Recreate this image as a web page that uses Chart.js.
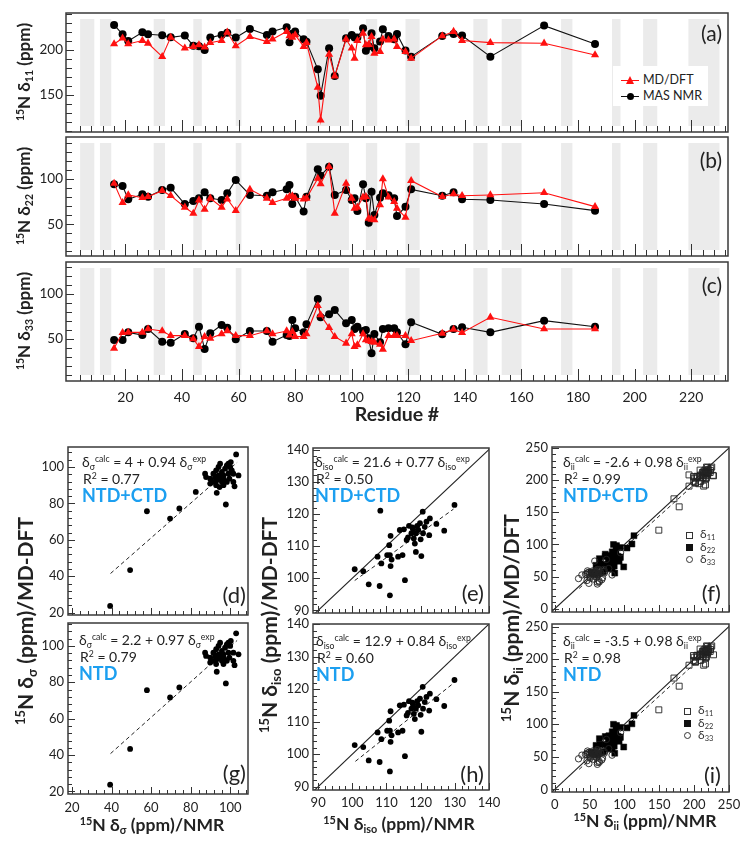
<!DOCTYPE html>
<html><head><meta charset="utf-8">
<script src="https://cdn.jsdelivr.net/npm/chart.js@4.4.1/dist/chart.umd.min.js"></script>
<style>
html,body{margin:0;padding:0;background:#fff}
body{width:754px;height:850px;position:relative;overflow:hidden;font-family:Lato,"Open Sans",sans-serif;color:#222}
canvas{position:absolute}
.t{position:absolute;white-space:nowrap;line-height:1}
.t sup,.t sub{font-size:0.62em;line-height:0;position:relative;vertical-align:baseline}
.t sup{top:-0.6em}
.t sub{top:0.32em}
.mk{position:absolute;box-sizing:border-box}
</style></head><body>
<canvas id="ca"></canvas><canvas id="cb"></canvas><canvas id="cc"></canvas>
<canvas id="cd"></canvas><canvas id="ce"></canvas><canvas id="cf"></canvas>
<canvas id="cg"></canvas><canvas id="ch"></canvas><canvas id="ci"></canvas>
<script>
// ---------------- data ----------------
const residues = [16,19,21,26,28,33,36,41,44,46,48,50,54,56,59,64,70,72,77,78,79,80,83,84,88,89,92,94,98,100,101,102,104,105,106,107,108,110,111,113,115,116,119,121,132,136,139,149,168,186];
const d11NMR = [227.8,217.4,210,219.6,217.4,216.3,214,216,204.8,204,200,213.7,216.7,219,213.7,223.3,216.7,220.4,225.2,208.5,218,220.4,211.9,209,178.5,149.3,201.9,171,213,216.7,213.7,213.7,224,199,204,218.5,201.9,209.3,223,215.6,211.9,217.8,199.3,192.6,215.6,217.8,216,192.6,227,206.7];
const d11MD = [206.7,213,206.7,210.4,207.4,192.6,214,201.9,203.7,205.6,203,208.1,210.4,219.6,204.4,214.8,209.3,211.9,220.4,215.6,214,216.7,203.7,208,158.5,122.2,195.2,171,211.9,201.9,190.7,210.4,218.5,205.6,206,214.8,196.3,198,211.9,211,211.9,203.7,198,190.7,215.6,220.4,210.4,208.1,207.4,194.4];
const d22NMR = [94.1,92.3,77.6,83.1,80.5,87.9,90.4,72.4,75.7,78.7,85.3,78.7,76.8,84.2,98.9,82.4,81.6,85.3,88.6,93.4,72.4,80.5,64,80.5,110.7,103.7,113.6,82.4,87.9,76.8,78.7,64.7,94.1,78.7,51.8,86,60.3,79.4,84.2,82,78.7,59.2,69.5,88.6,81.6,85.3,77.6,76.8,72.4,65.1];
const d22MD = [95.2,73.9,82.4,79.4,80.5,87.1,81.6,68.8,62.1,76.8,66.5,78.7,68.8,77.9,65.1,88.6,78.7,73.9,78.7,80.5,81.3,78.7,77.9,78.7,100.7,94.5,113.6,62.1,95.2,78.7,67.6,68.8,79.8,80.5,56.6,55.5,54.8,71.3,100,80,75,67.6,57.7,98.2,80.5,83.5,81.6,82.4,84.9,69.5];
const d33NMR = [48.9,48.9,57.4,54.4,61.1,47,45.9,55.6,50.7,63.7,38.9,56.3,65.6,62.6,49.6,58.9,58.9,47,54.4,53.3,71.1,61.9,57.4,66.3,94.4,74.1,77.4,82.2,67.4,71.1,61.1,63.7,58.9,60,50.7,34.1,55.6,46.3,61.1,62,61.9,57.4,44.1,68.5,55.2,61.1,63,57.4,70.4,63.7];
const d33MD = [39.6,57,57.4,57.4,61.1,58.9,53.7,53.7,50,41.5,52.6,50.7,55.6,58.9,53.7,53.7,58.9,55.6,58.9,54.4,58.1,52.6,52.6,55.6,87,76.7,62.6,52.6,45.2,55.6,41.5,43.3,55.6,48.9,47.8,47,46.3,44.1,38.5,53.7,53.7,53.7,53.7,48.1,56.3,60.7,57,74.1,61.1,61.1];
const shadedBands = [[4,9],[11,15],[30,34],[44,47],[59,61],[84,99],[105,109],[119,124],[143,148],[153,160],[174,178],[192,195],[203,208],[219,230]];

// (d) NTD+CTD  delta-sigma
const sigAllNMR = [39.3,49.4,57.9,69.6,74.3,82.6,97.8,93.2,103,104.2,102.2,101.6,87.3,87.8,89.9,91.5,92.9,94.1,94.9,95.8,96.6,97.4,98.3,99.1,100,100.8,101.6,99.6,98.3,96.6,94.6,92.9,91.5,89.9,93.2,94.9,96.9,99.1,100.3,94.1,95.8,92.4];
const sigAllMD = [23.7,43.4,75.7,71.7,77.2,86.3,79.4,85.8,106.9,95.4,89.4,91.8,96.3,94.5,93.6,96.3,98.2,100,101.8,97.3,95.4,99.1,100.9,101.8,100,98.2,96.3,93.6,91.8,90,89,90,91.8,90.9,92.7,93.6,93.1,96.3,102.7,95.4,91.8,94.5];
// (g) NTD delta-sigma
const sigNtdNMR = [39.3,49.4,57.9,69.6,74.3,97.8,93.2,103,104.2,102.2,101.6,87.3,87.8,89.9,91.5,92.9,94.1,94.9,95.8,96.6,97.4,98.3,99.1,100,101.6,99.6,98.3,96.6,92.9,91.5,89.9,93.2,94.9,96.9,99.1,100.3,94.1,95.8,92.4];
const sigNtdMD = [23.7,43.4,75.7,71.7,77.2,79.4,85.8,106.9,95.4,89.4,91.8,96.3,94.5,93.6,96.3,98.2,100,101.8,97.3,95.4,99.1,100.9,101.8,100,96.3,93.6,91.8,90,90,91.8,90.9,92.7,93.6,93.1,96.3,102.7,95.4,91.8,94.5];
// (e) NTD+CTD delta-iso
const isoAllNMR = [100.7,103.2,104.8,108,108.2,107.4,108.5,110.2,110.8,111,111.2,111.5,111,111.2,113.4,113.9,114.7,115.1,115.4,115.9,116.3,116.6,117.3,117.8,118,118.3,118.6,119,119.3,119.8,120,120.2,120.6,120.7,121.2,121.7,122.5,122.7,124.6,126.9,129.9,118.6,117.6];
const isoAllMD = [102.8,102.2,98.1,97.6,121,106.7,104.6,107.2,110.3,107.2,103.8,105.8,94.7,113.2,106.7,115,107.2,115.2,99.4,111.9,112.7,116.3,114,115.2,112.4,110.8,114,116.3,115,117.1,112.1,106.9,120.7,114,116,117.6,113.4,118.6,116.9,114.8,122.8,108.2,115.8];
// (h) NTD delta-iso
const isoNtdNMR = [100.7,103.2,104.8,108,107.4,108.5,110.2,110.8,111,111.2,111.5,111,111.2,113.4,113.9,114.7,115.1,115.4,115.9,116.3,116.6,117.3,117.8,118,118.3,118.6,119,119.3,119.8,120,120.2,120.6,120.7,121.2,121.7,122.5,122.7,124.6,126.9,129.9,117.6];
const isoNtdMD = [102.8,102.2,98.1,97.6,106.7,104.6,107.2,110.3,107.2,103.8,105.8,94.7,113.2,106.7,115,107.2,115.2,99.4,111.9,112.7,116.3,114,115.2,112.4,110.8,114,116.3,115,117.1,112.1,106.9,120.7,114,116,117.6,113.4,118.6,116.9,114.8,122.8,115.8];
const ntdLastResidue = 146;

// dashed fit lines [x1,y1,x2,y2]
const fitD = [39.5,41.5,103.5,102.5];
const fitG = [39.5,40.8,103.5,103];
const fitE = [100.7,99.3,129.6,121.5];
const fitH = [100.9,97.8,129.6,121.8];
const fitF = [35,31.7,215,208];
const fitI = [35,30.8,215,207];

// tick labels
const residueTicks = [20,40,60,80,100,120,140,160,180,200,220];
const ticksA = [150,200];
const ticksB = [50,100];
const ticksC = [50,100];
const sigTicks = [20,40,60,80,100];
const isoTicks = [90,100,110,120,130,140];
const iiTicks = [0,50,100,150,200,250];

// ---------------- helpers ----------------
const FONT = 'Lato, "Open Sans", sans-serif';
Chart.defaults.font.family = FONT;
Chart.defaults.color = '#222';

const framePlugin = {
  id: 'frame',
  beforeDatasetsDraw(chart, args, o) {
    if (!o || !o.bands) return;
    const {ctx, chartArea: a} = chart; const xs = chart.scales.x;
    ctx.save(); ctx.fillStyle = '#ebebeb';
    o.bands.forEach(b => {
      const x1 = xs.getPixelForValue(b[0]), x2 = xs.getPixelForValue(b[1]);
      ctx.fillRect(x1, a.top + 6, x2 - x1, a.bottom - a.top - 12);
    });
    ctx.restore();
  },
  afterDraw(chart, args, o) {
    if (!o || !o.xt) return;
    const {ctx, chartArea: a} = chart;
    ctx.save();
    ctx.strokeStyle = '#333'; ctx.lineWidth = 1;
    ctx.beginPath();
    const marks = (sp, sc, horiz) => {
      const n = Math.round((sp.end - sp.start) / sp.step);
      for (let k = 0; k <= n; k++) {
        const v = sp.start + k * sp.step;
        const isMaj = Math.abs(v / sp.major - Math.round(v / sp.major)) < 1e-6;
        const len = isMaj ? sp.majLen : sp.minLen;
        const p = Math.round(sc.getPixelForValue(v)) + 0.5;
        if (horiz) { ctx.moveTo(p, a.bottom); ctx.lineTo(p, a.bottom - len); }
        else { ctx.moveTo(a.left, p); ctx.lineTo(a.left + len, p); }
      }
    };
    marks(o.xt, chart.scales.x, true);
    marks(o.yt, chart.scales.y, false);
    ctx.stroke();
    ctx.lineWidth = 1.5; ctx.strokeStyle = '#3a3a3a';
    ctx.strokeRect(a.left, a.top, a.right - a.left, a.bottom - a.top);
    ctx.restore();
  }
};
Chart.register(framePlugin);

function zero(s) { s.paddingTop = 0; s.paddingBottom = 0; s.paddingLeft = 0; s.paddingRight = 0; }
function axis(min, max, labels, show, size, pad) {
  return {
    type: 'linear', min, max,
    grid: {display: false, drawTicks: false}, border: {display: false},
    afterBuildTicks: s => { s.ticks = labels.map(v => ({value: v})); },
    ticks: {display: show, autoSkip: false, maxRotation: 0, minRotation: 0, padding: pad, font: {size, family: FONT}, color: '#222'}
  };
}
function mk(id, box, area, type, datasets, sx, sy, frame) {
  const c = document.getElementById(id);
  c.width = box.w; c.height = box.h;
  Object.assign(c.style, {left: box.l + 'px', top: box.t + 'px', width: box.w + 'px', height: box.h + 'px'});
  sx.afterFit = s => { s.height = box.t + box.h - area.b; zero(s); };
  sy.afterFit = s => { s.width = area.l - box.l; zero(s); };
  return new Chart(c, {
    type, data: {datasets},
    options: {
      responsive: false, animation: false, devicePixelRatio: 1,
      layout: {autoPadding: false, padding: {left: 0, top: area.t - box.t, right: box.l + box.w - area.r, bottom: 0}},
      plugins: {legend: {display: false}, tooltip: {enabled: false}, frame},
      scales: {x: sx, y: sy}
    }
  });
}
function topSets(nmr, md) {
  return [
    {label: 'MD/DFT', data: residues.map((r, i) => ({x: r, y: md[i]})), borderColor: '#ff1010', backgroundColor: '#ff1010',
     borderWidth: 1.1, pointStyle: 'triangle', pointRadius: 4.7, pointBorderWidth: 0, tension: 0, order: 0},
    {label: 'MAS NMR', data: residues.map((r, i) => ({x: r, y: nmr[i]})), borderColor: '#111', backgroundColor: '#000',
     borderWidth: 1.1, pointStyle: 'circle', pointRadius: 4, pointBorderWidth: 0, tension: 0, order: 1}
  ];
}
const xTop = {start: 4, end: 232, step: 4, major: 20, majLen: 12, minLen: 6};
function yTop(s, e) { return {start: s, end: e, step: 10, major: 50, majLen: 8, minLen: 6}; }

mk('ca', {l: 0, t: 0, w: 754, h: 134}, {l: 66, t: 13, r: 728, b: 132}, 'line', topSets(d11NMR, d11MD),
   axis(-1, 233, residueTicks, false, 13, 9), axis(109, 241, ticksA, true, 13.5, 3),
   {bands: shadedBands, xt: xTop, yt: yTop(110, 240)});
mk('cb', {l: 0, t: 134, w: 754, h: 125}, {l: 66, t: 137, r: 728, b: 256}, 'line', topSets(d22NMR, d22MD),
   axis(-1, 233, residueTicks, false, 13, 9), axis(15, 146.4, ticksB, true, 13.5, 3),
   {bands: shadedBands, xt: xTop, yt: yTop(20, 140)});
mk('cc', {l: 0, t: 259, w: 754, h: 150}, {l: 66, t: 262, r: 728, b: 381}, 'line', topSets(d33NMR, d33MD),
   axis(-1, 233, residueTicks, true, 14, 8), axis(3.3, 135.6, ticksC, true, 13.5, 3),
   {bands: shadedBands, xt: xTop, yt: yTop(10, 130)});

function pts(xs, ys) { return xs.map((x, i) => ({x, y: ys[i]})); }
function dotSet(xs, ys) { return {data: pts(xs, ys), pointStyle: 'circle', pointRadius: 2.9, backgroundColor: '#000', borderWidth: 0, order: 0}; }
function lineSet(f, dash) { return {type: 'line', data: [{x: f[0], y: f[1]}, {x: f[2], y: f[3]}], showLine: true, borderColor: '#222', borderWidth: dash ? 1 : 1.1, borderDash: dash ? [4, 3] : [], pointRadius: 0, fill: false, order: 2}; }
const sigX = {start: 20, end: 108, step: 4, major: 20, majLen: 7, minLen: 4};
const isoX = {start: 90, end: 140, step: 2, major: 10, majLen: 7, minLen: 4};
const iiX = {start: 0, end: 250, step: 10, major: 50, majLen: 7, minLen: 4};

mk('cd', {l: 0, t: 434, w: 254, h: 184}, {l: 68, t: 447, r: 248, b: 615}, 'scatter', [dotSet(sigAllNMR, sigAllMD), lineSet(fitD, true)],
   axis(18, 109, sigTicks, false, 13, 6), axis(18.7, 111, sigTicks, true, 13, 4), {xt: sigX, yt: {start: 20, end: 108, step: 4, major: 20, majLen: 7, minLen: 4}});
mk('cg', {l: 0, t: 610, w: 254, h: 208}, {l: 68, t: 623, r: 248, b: 794}, 'scatter', [dotSet(sigNtdNMR, sigNtdMD), lineSet(fitG, true)],
   axis(18, 109, sigTicks, true, 13, 6), axis(18.6, 112.6, sigTicks, true, 13, 4), {xt: sigX, yt: {start: 20, end: 112, step: 4, major: 20, majLen: 7, minLen: 4}});

const diagIso = [88, 88, 141, 141];
mk('ce', {l: 254, t: 434, w: 246, h: 184}, {l: 313, t: 448, r: 489, b: 613}, 'scatter', [dotSet(isoAllNMR, isoAllMD), lineSet(fitE, true), lineSet(diagIso, false)],
   axis(88.5, 140, isoTicks, false, 13, 6), axis(89.2, 140.5, isoTicks, true, 13, 4), {xt: isoX, yt: isoX});
mk('ch', {l: 254, t: 610, w: 246, h: 208}, {l: 313, t: 624, r: 489, b: 790}, 'scatter', [dotSet(isoNtdNMR, isoNtdMD), lineSet(fitH, true), lineSet(diagIso, false)],
   axis(88.5, 140, isoTicks, true, 13, 5), axis(89, 140, isoTicks, true, 13, 4), {xt: isoX, yt: isoX});

function iiSets(filter) {
  const idx = residues.map((r, i) => i).filter(i => !filter || residues[i] <= ntdLastResidue);
  const sel = (a, b) => idx.map(i => ({x: a[i], y: b[i]}));
  return [
    {data: sel(d11NMR, d11MD), pointStyle: 'rect', pointRadius: 4.2, backgroundColor: 'rgba(255,255,255,0)', borderColor: '#222', borderWidth: 0.9, order: 1},
    {data: sel(d22NMR, d22MD), pointStyle: 'rect', pointRadius: 4.2, backgroundColor: '#000', borderColor: '#000', borderWidth: 0.5, order: 1},
    {data: sel(d33NMR, d33MD), pointStyle: 'circle', pointRadius: 3.2, backgroundColor: 'rgba(255,255,255,0)', borderColor: '#222', borderWidth: 0.9, order: 0}
  ];
}
const diagII = [-10, -10, 260, 260];
mk('cf', {l: 500, t: 434, w: 254, h: 184}, {l: 552, t: 447, r: 729, b: 612}, 'scatter', [...iiSets(false), lineSet(fitF, true), lineSet(diagII, false)],
   axis(-4, 250, iiTicks, false, 13, 6), axis(-5, 251.5, iiTicks, true, 13, 4), {xt: iiX, yt: iiX});
mk('ci', {l: 500, t: 610, w: 254, h: 208}, {l: 552, t: 624, r: 729, b: 792}, 'scatter', [...iiSets(true), lineSet(fitI, true), lineSet(diagII, false)],
   axis(-4, 250, iiTicks, true, 13, 5), axis(-4, 254, iiTicks, true, 13, 4), {xt: iiX, yt: iiX});

// ---------------- text overlays ----------------
function T(html, x, y, size, o = {}) {
  const d = document.createElement('div');
  d.className = 't'; d.innerHTML = html;
  d.style.left = x + 'px'; d.style.top = y + 'px';
  d.style.fontSize = size + 'px';
  d.style.fontWeight = o.w || 400;
  d.style.color = o.c || '#222';
  let tr = o.a === 'c' ? 'translate(-50%,-50%)' : o.a === 'r' ? 'translate(-100%,-50%)' : 'translate(0,-50%)';
  if (o.rot) tr = 'translate(-50%,-50%) rotate(-90deg)';
  d.style.transform = tr;
  document.body.appendChild(d);
}
function M(css) { const d = document.createElement('div'); d.className = 'mk'; d.style.cssText += css; document.body.appendChild(d); }

T('<sup>15</sup>N δ<sub>11</sub> (ppm)', 23, 72, 17, {w: 700, rot: true});
T('<sup>15</sup>N δ<sub>22</sub> (ppm)', 23, 196, 17, {w: 700, rot: true});
T('<sup>15</sup>N δ<sub>33</sub> (ppm)', 23, 321, 17, {w: 700, rot: true});
T('Residue #', 397, 414, 19.5, {w: 700, a: 'c'});
T('(a)', 722, 32, 21, {a: 'r'});
T('(b)', 722, 159, 21, {a: 'r'});
T('(c)', 722, 284, 21, {a: 'r'});

// legend (a)
M('left:613px;top:66px;width:95px;height:40px;background:#fff');
M('left:621px;top:79.5px;width:18px;height:1.2px;background:#ff1010');
M('left:625.5px;top:76px;width:0;height:0;border-left:4.5px solid transparent;border-right:4.5px solid transparent;border-bottom:8px solid #ff1010');
T('MD/DFT', 643, 80, 12.5);
M('left:621px;top:95.5px;width:18px;height:1.2px;background:#111');
M('left:626.5px;top:92.5px;width:7px;height:7px;border-radius:50%;background:#000');
T('MAS NMR', 643, 96, 12.5);

// scatter titles
T('<sup>15</sup>N δ<sub>σ</sub> (ppm)/MD-DFT', 24, 621, 21, {w: 700, rot: true});
T('<sup>15</sup>N δ<sub>iso</sub> (ppm)/MD-DFT', 268, 625, 21, {w: 700, rot: true});
T('<sup>15</sup>N δ<sub>ii</sub> (ppm)/MD/DFT', 510, 618, 21, {w: 700, rot: true});
T('<sup>15</sup>N δ<sub>σ</sub> (ppm)/NMR', 152, 825, 17.5, {w: 700, a: 'c'});
T('<sup>15</sup>N δ<sub>iso</sub> (ppm)/NMR', 399, 824, 17.5, {w: 700, a: 'c'});
T('<sup>15</sup>N δ<sub>ii</sub> (ppm)/NMR', 645, 821, 17.5, {w: 700, a: 'c'});

const BLUE = '#1c9ff0';
function eq(x, y0, sub, txt, r2, tag) {
  T('δ<sub>' + sub + '</sub><sup>calc</sup> = ' + txt + ' δ<sub>' + sub + '</sub><sup>exp</sup>', x, y0, 14);
  T('R<sup>2</sup> = ' + r2, x + 1, y0 + 17, 14);
  T(tag, x, y0 + 33, 18, {w: 700, c: BLUE});
}
eq(82, 462, 'σ', '4 + 0.94', '0.77', 'NTD+CTD');
eq(315, 462, 'iso', '21.6 + 0.77', '0.50', 'NTD+CTD');
eq(563, 462, 'ii', '-2.6 + 0.98', '0.99', 'NTD+CTD');
eq(79, 640, 'σ', '2.2 + 0.97', '0.79', 'NTD');
eq(316, 641, 'iso', '12.9 + 0.84', '0.60', 'NTD');
eq(563, 641, 'ii', '-3.5 + 0.98', '0.98', 'NTD');

T('(d)', 246, 595, 22, {a: 'r'});
T('(e)', 484, 593, 22, {a: 'r'});
T('(f)', 721, 593, 22, {a: 'r'});
T('(g)', 246, 773, 22, {a: 'r'});
T('(h)', 484, 774, 22, {a: 'r'});
T('(i)', 721, 775, 22, {a: 'r'});

function iiLegend(x, y) {
  M('left:' + (x - 3.5) + 'px;top:' + (y - 3.5) + 'px;width:7px;height:7px;border:1px solid #333;background:#fff');
  T('δ<sub>11</sub>', x + 11, y - 1, 12, {c: '#333'});
  M('left:' + (x - 3.5) + 'px;top:' + (y + 9) + 'px;width:7px;height:7px;background:#111');
  T('δ<sub>22</sub>', x + 11, y + 12, 12, {c: '#333'});
  M('left:' + (x - 3.5) + 'px;top:' + (y + 21) + 'px;width:7px;height:7px;border:1px solid #333;border-radius:50%;background:#fff');
  T('δ<sub>33</sub>', x + 11, y + 24, 12, {c: '#333'});
}
iiLegend(689, 535);
iiLegend(687, 711);
</script>
</body></html>
